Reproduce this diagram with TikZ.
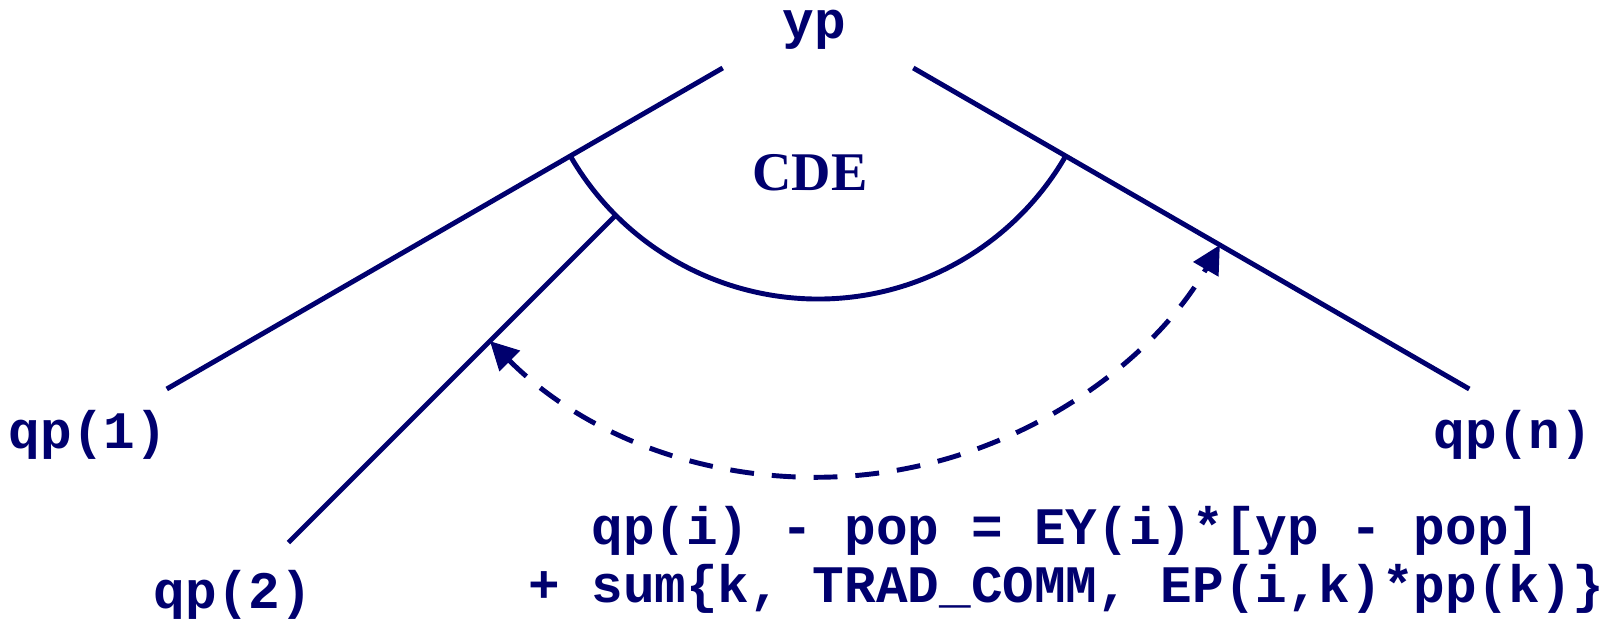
\documentclass[tikz,border=0pt]{standalone}
\usepackage{fontspec}
\setmonofont{Liberation Mono}
\newfontfamily\serifbold{Liberation Serif}
\usepackage{tikz}
\usetikzlibrary{arrows.meta}
\definecolor{inkblue}{RGB}{0,0,110}
\tikzset{
	codelabel/.style={inkblue, inner sep=0pt, font=\fontsize{15}{16.5}\selectfont\ttfamily\bfseries},
	branch/.style={inkblue, line width=1.4pt},
	elastarrow/.style={inkblue, line width=1.4pt, dash pattern=on 6.8pt off 5.1pt, {Triangle[length=8pt,width=8pt]}-{Triangle[length=8pt,width=8pt]}}
}
\begin{document}
\begin{tikzpicture}
			\useasboundingbox (0,0) rectangle (16.14,6.24);
			\coordinate (apex) at (8.18,6.11);
			
			% the three branches below yp
			\coordinate (b1s) at ([shift={(210:1.1)}]apex);
			\coordinate (b1e) at ([shift={(210:7.52)}]apex);
			\coordinate (bns) at ([shift={(-30:1.1)}]apex);
			\coordinate (bne) at ([shift={(-30:7.52)}]apex);
			\coordinate (b2s) at ([shift={(225:2.86)}]apex);
			\coordinate (b2e) at ([shift={(225:7.49)}]apex);
			\draw[branch] (b1s) -- (b1e);
			\draw[branch] (bns) -- (bne);
			\draw[branch] (b2s) -- (b2e);
			
			% CDE arc
			\coordinate (cl) at ([shift={(210:2.86)}]apex);
			\draw[branch] (cl) arc[start angle=210, end angle=330, radius=2.86];
			
			% dashed double arrow from branch 2 to branch n
			\coordinate (dl) at ([shift={(225:4.64)}]apex);
			\draw[elastarrow] (dl) arc[start angle=225, end angle=330, radius=4.64];
			
			\node[codelabel, anchor=base] (yp) at (8.14,5.85) {yp};
			\node[inkblue, inner sep=0pt, anchor=base, font=\fontsize{15.5}{18}\selectfont\serifbold\bfseries] (cde) at (8.10,4.33) {CDE};
			\node[codelabel, anchor=base] (qp1) at (0.88,1.75) {qp(1)};
			\node[codelabel, anchor=base] (qpn) at (15.13,1.75) {qp(n)};
			\node[codelabel, anchor=base] (qp2) at (2.33,0.15) {qp(2)};
			\node[codelabel, align=center] (eq) at (10.66,0.64) {qp(i) - pop = EY(i)*[yp - pop]\\+ sum\{k, TRAD\_COMM, EP(i,k)*pp(k)\}};
		\end{tikzpicture}
\end{document}
